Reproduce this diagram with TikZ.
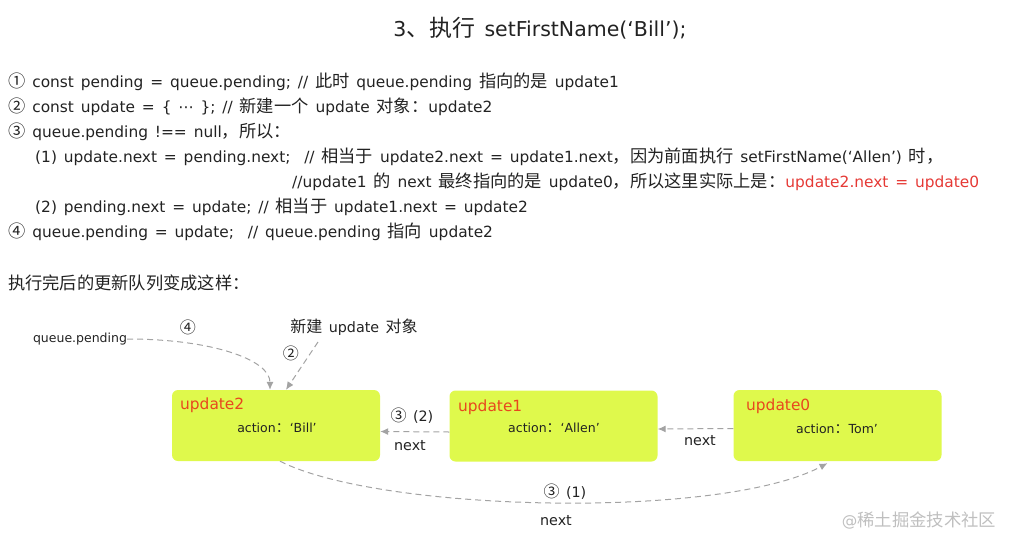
\documentclass[tikz,border=0pt]{standalone}
\usepackage{fontspec}
\setmainfont{DejaVu Sans}[WordSpace=1.4]
\newfontfamily\zh[Scale=1.12]{Noto Sans CJK SC}
\usetikzlibrary{arrows.meta,positioning}
\definecolor{boxfill}{HTML}{DFF94C}
\definecolor{namered}{HTML}{E8471E}
\definecolor{notered}{HTML}{E53935}
\definecolor{linkgray}{HTML}{A3A3A3}
\definecolor{inkgray}{HTML}{222222}

\begin{document}
\begin{tikzpicture}[
		  x=1pt, y=-1pt, >={Latex[length=8pt,width=7pt]},
		  code/.style={anchor=west, inner sep=0pt, text=inkgray, font=\fontsize{15.4}{18}\selectfont},
		  obj/.style={fill=boxfill, rounded corners=6pt, minimum width=208pt, minimum height=71pt, inner sep=0pt},
		  objname/.style={anchor=west, inner sep=0pt, text=namered, font=\fontsize{15.4}{18}\selectfont},
		  objact/.style={inner sep=0pt, text=inkgray, font=\fontsize{12.5}{15}\selectfont},
		  tag/.style={inner sep=0pt, text=inkgray, font=\fontsize{14.3}{17}\selectfont},
		  link/.style={->, linkgray, line width=1pt, dash pattern=on 6pt off 4pt}
		]
		\useasboundingbox (0,0) rectangle (1013,547);
		
		% title and code notes
		\node[inner sep=0pt, text=inkgray, font=\fontsize{20.5}{24}\selectfont] (title) at (540,28) {3{\zh 、执行} setFirstName(‘Bill’);};
		\node[code] (l1) at (8,82) {{\zh ①} const pending = queue.pending; // {\zh 此时} queue.pending {\zh 指向的是} update1};
		\node[code] (l2) at (8,107) {{\zh ②} const update = \{ ⋯ \}; // {\zh 新建一个} update {\zh 对象：}update2};
		\node[code] (l3) at (8,132) {{\zh ③} queue.pending !== null{\zh ，所以：}};
		\node[code] (l4) at (35,157) {(1) update.next = pending.next;\ \ // {\zh 相当于} update2.next = update1.next{\zh ，因为前面执行} setFirstName(‘Allen’) {\zh 时，}};
		\node[code] (l5) at (292,182) {//update1 {\zh 的} next {\zh 最终指向的是} update0{\zh ，所以这里实际上是：}\textcolor{notered}{update2.next = update0}};
		\node[code] (l6) at (35,207) {(2) pending.next = update; // {\zh 相当于} update1.next = update2};
		\node[code] (l7) at (8,232) {{\zh ④} queue.pending = update;\ \ // queue.pending {\zh 指向} update2};
		\node[code] (after) at (8,283) {\zh 执行完后的更新队列变成这样：};
		
		% update queue
		\node[obj] (u2) at (276,425.5) {};
		\node[obj] (u1) at (553.5,426) {};
		\node[obj] (u0) at (837.5,425.5) {};
		\node[objname] (u2name) at (180,405) {update2};
		\node[objname] (u1name) at (458,407) {update1};
		\node[objname] (u0name) at (746,406) {update0};
		\node[objact] (u2act) at (277,428) {action{\zh ：}‘Bill’};
		\node[objact] (u1act) at (554,428) {action{\zh ：}‘Allen’};
		\node[objact] (u0act) at (837,429) {action{\zh ：}Tom’};
		
		\node[inner sep=0pt, text=inkgray, font=\fontsize{12.5}{15}\selectfont] (qp) at (80,339) {queue.pending};
		\node[tag] (step4) at (188,327) {\zh ④};
		\node[tag] (newobj) at (354,327) {{\zh 新建} update {\zh 对象}};
		\node[tag] (step2) at (291,353) {\zh ②};
		\coordinate (newobjfoot) at (318,342);
		
		\draw[link] (qp.east) .. controls +(85,0) and +(0,-30) .. ([xshift=-6pt]u2.north);
		\draw[link] (newobjfoot) -- ([xshift=10pt]u2.north);
		
		\draw[link] ([yshift=-6pt]u1.west) -- ([yshift=-6pt]u2.east);
		\node[tag] (s32) at (412,416) {{\zh ③} (2)};
		\node[tag] (n32) at (410,446) {next};
		
		\draw[link] ([yshift=-3pt]u0.west) -- ([yshift=-3pt]u1.east);
		\node[tag] (n0) at (700,441) {next};
		
		\draw[link] ([xshift=4pt]u2.south) .. controls (380,512) and (720,520) .. ([xshift=-10pt,yshift=-2pt]u0.south);
		\node[tag] (s31) at (565,492) {{\zh ③} (1)};
		\node[tag] (n31) at (556,521) {next};
		
		\node[inner sep=0pt, text=black!25, font=\fontsize{15.5}{18}\selectfont] (mark) at (919,520) {@{\zh 稀土掘金技术社区}};
		\end{tikzpicture}
\end{document}
